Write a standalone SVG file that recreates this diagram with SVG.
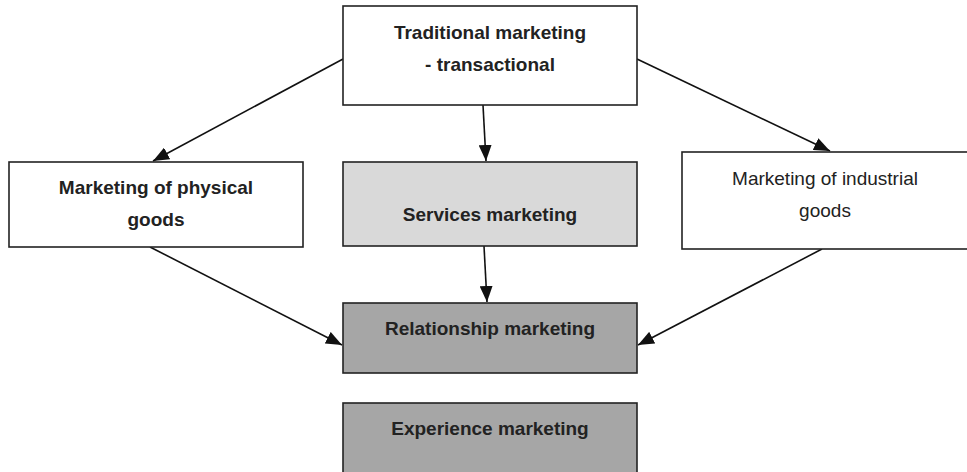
<svg xmlns="http://www.w3.org/2000/svg" width="967" height="472" viewBox="0 0 967 472">
<defs>
<marker id="ah" markerWidth="16" markerHeight="13" refX="16" refY="6.5" orient="auto" markerUnits="userSpaceOnUse" viewBox="0 0 16 13">
<path d="M0,0 L16,6.5 L0,13 z" fill="#111"/>
</marker>
<style>
.box{stroke:#222;stroke-width:1.6}
.t{font-family:"Liberation Sans",Arial,sans-serif;font-size:19px;fill:#222;text-anchor:middle}
.b{font-weight:bold}
.c{stroke:#111;stroke-width:1.6;fill:none;marker-end:url(#ah)}
</style>
</defs>
<rect width="967" height="472" fill="#fff"/>
<g id="connectors">
<line class="c" x1="343" y1="59" x2="153" y2="161"/>
<line class="c" x1="483" y1="105" x2="486" y2="161"/>
<line class="c" x1="637" y1="59" x2="830" y2="151"/>
<line class="c" x1="150" y1="247" x2="342" y2="345"/>
<line class="c" x1="484" y1="246" x2="487" y2="302"/>
<line class="c" x1="822" y1="249" x2="638" y2="345"/>
</g>
<g id="traditional">
<rect class="box" x="343" y="6" width="294" height="99" fill="#fff"/>
<text class="t b" x="490" y="39">Traditional marketing</text>
<text class="t b" x="490" y="71">- transactional</text>
</g>
<g id="physical">
<rect class="box" x="9" y="162" width="294" height="85" fill="#fff"/>
<text class="t b" x="156" y="194">Marketing of physical</text>
<text class="t b" x="156" y="226">goods</text>
</g>
<g id="services">
<rect class="box" x="343" y="162" width="294" height="84" fill="#d9d9d9"/>
<text class="t b" x="490" y="221">Services marketing</text>
</g>
<g id="industrial">
<rect class="box" x="682" y="152" width="290" height="97" fill="#fff"/>
<text class="t" x="825" y="185">Marketing of industrial</text>
<text class="t" x="825" y="217">goods</text>
</g>
<g id="relationship">
<rect class="box" x="343" y="303" width="294" height="70" fill="#a6a6a6"/>
<text class="t b" x="490" y="335">Relationship marketing</text>
</g>
<g id="experience">
<rect class="box" x="343" y="403" width="294" height="80" fill="#a6a6a6"/>
<text class="t b" x="490" y="435">Experience marketing</text>
</g>
</svg>
